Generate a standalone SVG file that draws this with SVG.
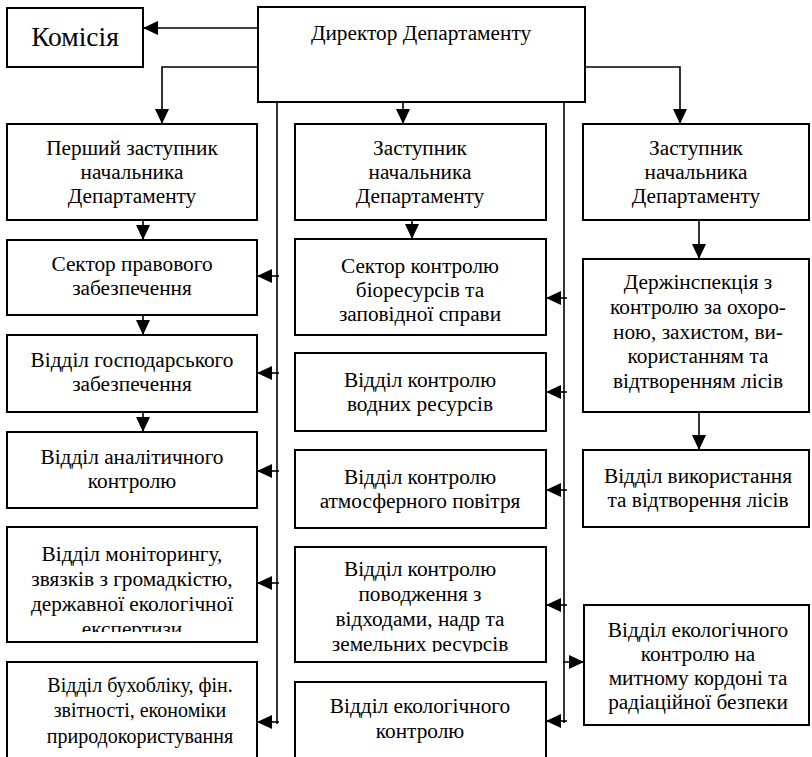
<svg xmlns="http://www.w3.org/2000/svg" width="812" height="757" viewBox="0 0 812 757">
<style>
.box{fill:#fff;stroke:#000;stroke-width:2}
.t{font-family:"Liberation Serif","DejaVu Serif",serif;font-size:21.3px;text-anchor:middle;fill:#000}
.big{font-size:27.5px}
.sm{font-size:20px}
.c{fill:none;stroke:#000;stroke-width:1.6}
</style>
<defs>
<marker id="ah" markerUnits="userSpaceOnUse" markerWidth="15" markerHeight="14" refX="15" refY="7" orient="auto" viewBox="0 0 15 14">
<path d="M0,0 L15,7 L0,14 z" fill="#000"/>
</marker>
<clipPath id="clipMon"><rect x="7" y="527" width="250" height="105"/></clipPath>
<clipPath id="clipPov"><rect x="295" y="547" width="251" height="105"/></clipPath>
</defs>
<rect width="812" height="757" fill="#fff"/>
<g id="connectors">
<path class="c" d="M258,28 H143" marker-end="url(#ah)"/>
<path class="c" d="M258,67 H162 V124" marker-end="url(#ah)"/>
<path class="c" d="M403,102 V124" marker-end="url(#ah)"/>
<path class="c" d="M585,67 H680 V124" marker-end="url(#ah)"/>
<path class="c" d="M277,102 V724"/>
<path class="c" d="M564,102 V723"/>
<path class="c" d="M143,220 V240" marker-end="url(#ah)"/>
<path class="c" d="M143,315 V335" marker-end="url(#ah)"/>
<path class="c" d="M143,412 V432" marker-end="url(#ah)"/>
<path class="c" d="M412,220 V239" marker-end="url(#ah)"/>
<path class="c" d="M699,220 V259" marker-end="url(#ah)"/>
<path class="c" d="M699,412 V450" marker-end="url(#ah)"/>
<path class="c" d="M279,276 H257" marker-end="url(#ah)"/>
<path class="c" d="M279,373 H257" marker-end="url(#ah)"/>
<path class="c" d="M279,471 H257" marker-end="url(#ah)"/>
<path class="c" d="M279,583 H257" marker-end="url(#ah)"/>
<path class="c" d="M279,722 H257" marker-end="url(#ah)"/>
<path class="c" d="M567,298 H546" marker-end="url(#ah)"/>
<path class="c" d="M567,392 H546" marker-end="url(#ah)"/>
<path class="c" d="M567,490 H546" marker-end="url(#ah)"/>
<path class="c" d="M567,605 H546" marker-end="url(#ah)"/>
<path class="c" d="M567,721 H546" marker-end="url(#ah)"/>
<path class="c" d="M563,662 H584" marker-end="url(#ah)"/>
</g>
<g id="komisiia">
<rect class="box" x="7" y="8" width="136" height="59"/>
<text class="t big" x="75" y="46">Комісія</text>
</g>
<g id="dyrektor">
<rect class="box" x="258" y="7" width="327" height="95"/>
<text class="t" x="421" y="40">Директор Департаменту</text>
</g>
<g id="pershyi-zastupnyk">
<rect class="box" x="7" y="124" width="250" height="96"/>
<text class="t" x="132" y="155">Перший заступник</text>
<text class="t" x="132" y="179">начальника</text>
<text class="t" x="132" y="203">Департаменту</text>
</g>
<g id="zastupnyk-2">
<rect class="box" x="295" y="124" width="251" height="96"/>
<text class="t" x="420" y="155">Заступник</text>
<text class="t" x="420" y="179">начальника</text>
<text class="t" x="420" y="203">Департаменту</text>
</g>
<g id="zastupnyk-3">
<rect class="box" x="583" y="124" width="226" height="96"/>
<text class="t" x="696" y="155">Заступник</text>
<text class="t" x="696" y="179">начальника</text>
<text class="t" x="696" y="203">Департаменту</text>
</g>
<g id="sektor-pravovoho">
<rect class="box" x="7" y="240" width="250" height="75"/>
<text class="t" x="132" y="271">Сектор правового</text>
<text class="t" x="132" y="295">забезпечення</text>
</g>
<g id="viddil-hospodarskoho">
<rect class="box" x="7" y="335" width="250" height="77"/>
<text class="t" x="132" y="367">Відділ господарського</text>
<text class="t" x="132" y="391">забезпечення</text>
</g>
<g id="viddil-analitychnoho">
<rect class="box" x="7" y="432" width="250" height="76"/>
<text class="t" x="132" y="464">Відділ аналітичного</text>
<text class="t" x="132" y="488">контролю</text>
</g>
<g id="viddil-monitorynhu">
<rect class="box" x="7" y="527" width="250" height="115"/>
<g clip-path="url(#clipMon)">
<text class="t" x="132" y="561">Відділ моніторингу,</text>
<text class="t" x="132" y="586">звязків з громадкістю,</text>
<text class="t" x="132" y="611">державної екологічної</text>
<text class="t" x="132" y="636">експертизи</text>
</g>
</g>
<g id="viddil-bukhobliku">
<rect class="box" x="7" y="662" width="250" height="110"/>
<text class="t sm" x="140" y="692">Відділ бухобліку, фін.</text>
<text class="t sm" x="140" y="717">звітності, економіки</text>
<text class="t sm" x="140" y="743">природокористування</text>
</g>
<g id="sektor-bioresursiv">
<rect class="box" x="295" y="239" width="251" height="96"/>
<text class="t" x="420" y="273">Сектор контролю</text>
<text class="t" x="420" y="297">біоресурсів та</text>
<text class="t" x="420" y="321">заповідної справи</text>
</g>
<g id="viddil-vodnykh">
<rect class="box" x="295" y="353" width="251" height="78"/>
<text class="t" x="420" y="387">Відділ контролю</text>
<text class="t" x="420" y="411">водних ресурсів</text>
</g>
<g id="viddil-atmosfernoho">
<rect class="box" x="295" y="450" width="251" height="78"/>
<text class="t" x="420" y="484">Відділ контролю</text>
<text class="t" x="420" y="508">атмосферного повітря</text>
</g>
<g id="viddil-povodzhennia">
<rect class="box" x="295" y="547" width="251" height="115"/>
<g clip-path="url(#clipPov)">
<text class="t" x="420" y="576">Відділ контролю</text>
<text class="t" x="420" y="601">поводження з</text>
<text class="t" x="420" y="626">відходами, надр та</text>
<text class="t" x="420" y="651">земельних ресурсів</text>
</g>
</g>
<g id="viddil-ekolohichnoho">
<rect class="box" x="295" y="682" width="251" height="90"/>
<text class="t" x="420" y="713">Відділ екологічного</text>
<text class="t" x="420" y="738">контролю</text>
</g>
<g id="derzhinspektsiia">
<rect class="box" x="583" y="259" width="226" height="153"/>
<text class="t" x="698" y="289">Держінспекція з</text>
<text class="t" x="698" y="314">контролю за охоро-</text>
<text class="t" x="698" y="339">ною, захистом, ви-</text>
<text class="t" x="698" y="363">користанням та</text>
<text class="t" x="698" y="388">відтворенням лісів</text>
</g>
<g id="viddil-vykorystannia">
<rect class="box" x="583" y="450" width="226" height="77"/>
<text class="t" x="698" y="483">Відділ використання</text>
<text class="t" x="698" y="507">та відтворення лісів</text>
</g>
<g id="viddil-mytnyi">
<rect class="box" x="584" y="605" width="225" height="120"/>
<text class="t" x="698" y="637">Відділ екологічного</text>
<text class="t" x="698" y="661">контролю на</text>
<text class="t" x="698" y="685">митному кордоні та</text>
<text class="t" x="698" y="709">радіаційної безпеки</text>
</g>
</svg>
